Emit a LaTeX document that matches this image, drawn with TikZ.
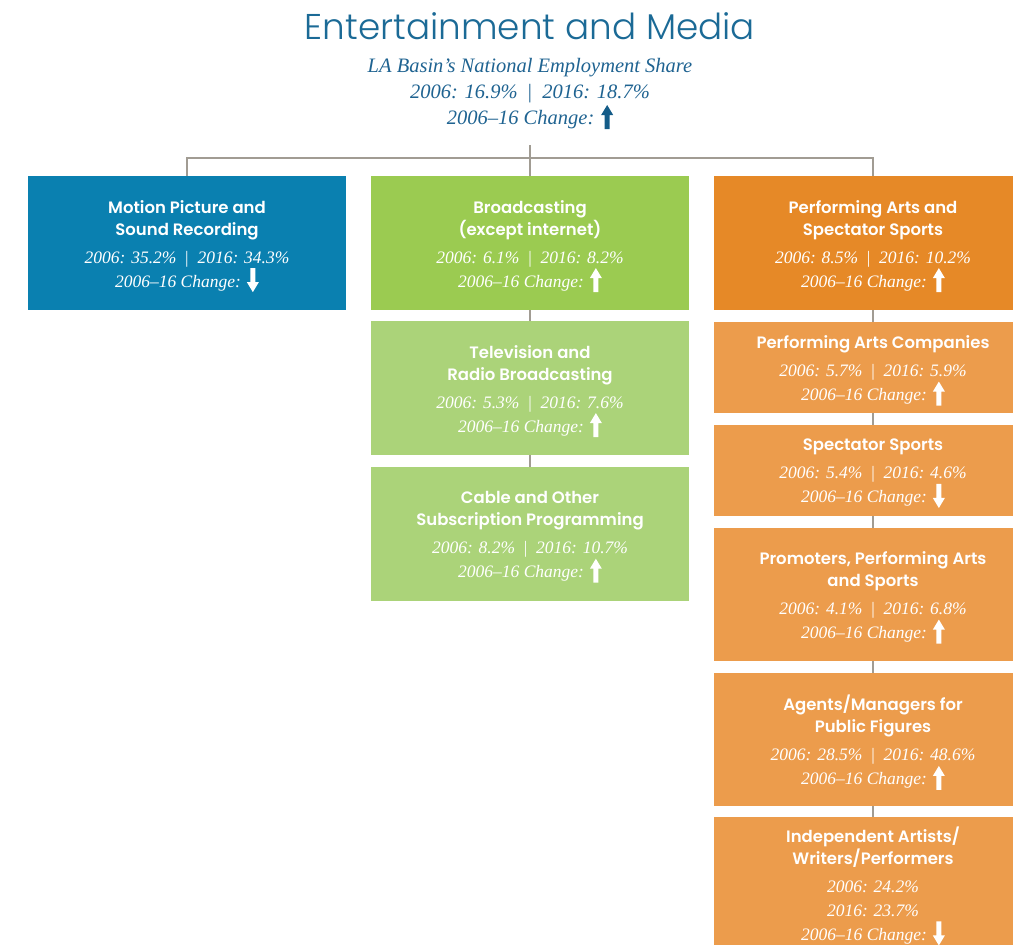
\documentclass[tikz,border=0pt]{standalone}
\usepackage{fontspec}
\setmainfont{Liberation Serif}
\setsansfont{Poppins}[BoldFont={Poppins SemiBold}]
\newfontfamily\titlefont{Poppins Light}
\definecolor{titleblue}{HTML}{1B6A96}
\definecolor{subblue}{HTML}{1F6391}
\definecolor{arrowblue}{HTML}{145C88}
\definecolor{boxblue}{HTML}{0A80B0}
\definecolor{greenA}{HTML}{9BCB51}
\definecolor{greenB}{HTML}{ABD379}
\definecolor{orangeA}{HTML}{E68927}
\definecolor{orangeB}{HTML}{EC9C4C}
\definecolor{linegray}{HTML}{A19C93}
\newcommand\hd[1]{{\sffamily\upshape\bfseries\fontsize{16.5}{20}\selectfont #1}}
\newcommand\sepbar{\hspace{0.5em}\textup{|}\hspace{0.5em}}
\newcommand\uarr[1][white]{\smash{\tikz[baseline=5pt,x=1pt,y=1pt]\fill[#1] (-2.5,0) -- (-2.5,14) -- (-6,14) -- (0,24) -- (6,14) -- (2.5,14) -- (2.5,0) -- cycle;}}
\newcommand\darr[1][white]{\smash{\tikz[baseline=5pt,x=1pt,y=1pt]\fill[#1] (-2.5,24) -- (-2.5,10) -- (-6,10) -- (0,0) -- (6,10) -- (2.5,10) -- (2.5,24) -- cycle;}}
\tikzset{
  box/.style={rectangle, inner sep=0pt, minimum width=318pt, text=white, align=center,
    font=\itshape\fontsize{17.5}{24}\selectfont},
  btext/.style={inner sep=0pt, text=white, align=center, font=\itshape\fontsize{17.5}{24}\selectfont},
  conn/.style={draw=linegray, line width=2pt},
  sub/.style={anchor=base, inner sep=0pt, text=subblue, font=\itshape\fontsize{20.5}{22}\selectfont}
}
\begin{document}
\begin{tikzpicture}[x=1pt,y=-1pt]
\useasboundingbox (0,0) rectangle (1013,945);
\clip (0,0) rectangle (1013,945);
% title
\node[anchor=base, inner sep=0pt, text=titleblue, font=\titlefont\fontsize{35.8}{40}\selectfont] (title) at (530,39) {Entertainment and Media};
\node[sub] (s1) at (530,72) {LA Basin’s National Employment Share};
\node[sub] (s2) at (530,98) {2006: 16.9\%\sepbar 2016: 18.7\%};
\node[sub] (s3) at (530,124) {2006–16 Change: \uarr[arrowblue]};
% boxes
\node[box, fill=boxblue, minimum height=134pt] (mp) at (187,243) {};
\node[box, fill=greenA, minimum height=134pt] (bc) at (530,243) {};
\node[box, fill=greenB, minimum height=134pt] (tv) at (530,388) {};
\node[box, fill=greenB, minimum height=134pt] (cb) at (530,534) {};
\node[box, fill=orangeA, minimum height=134pt] (pa) at (873,243) {};
\node[box, fill=orangeB, minimum height=91pt] (pac) at (873,367.5) {};
\node[box, fill=orangeB, minimum height=91pt] (ss) at (873,470.5) {};
\node[box, fill=orangeB, minimum height=133pt] (pr) at (873,594.5) {};
\node[box, fill=orangeB, minimum height=133pt] (ag) at (873,739.5) {};
\node[box, fill=orangeB, minimum height=136pt] (ia) at (873,885) {};
% box texts
\node[btext, yshift=-2.5pt] (mpt) at (mp)
  {\hd{Motion Picture and}\\[-2pt]\hd{Sound Recording}\\[4pt]2006: 35.2\%\sepbar 2016: 34.3\%\\2006–16 Change: \darr};
\node[btext, yshift=-2.5pt] (bct) at (bc)
  {\hd{Broadcasting}\\[-2pt]\hd{(except internet)}\\[4pt]2006: 6.1\%\sepbar 2016: 8.2\%\\2006–16 Change: \uarr};
\node[btext, yshift=-2.5pt] (tvt) at (tv)
  {\hd{Television and}\\[-2pt]\hd{Radio Broadcasting}\\[4pt]2006: 5.3\%\sepbar 2016: 7.6\%\\2006–16 Change: \uarr};
\node[btext, yshift=-2.5pt] (cbt) at (cb)
  {\hd{Cable and Other}\\[-2pt]\hd{Subscription Programming}\\[4pt]2006: 8.2\%\sepbar 2016: 10.7\%\\2006–16 Change: \uarr};
\node[btext, yshift=-2.5pt] (pat) at (pa)
  {\hd{Performing Arts and}\\[-2pt]\hd{Spectator Sports}\\[4pt]2006: 8.5\%\sepbar 2016: 10.2\%\\2006–16 Change: \uarr};
\node[btext, yshift=-2.5pt] (pact) at (pac)
  {\hd{Performing Arts Companies}\\[4pt]2006: 5.7\%\sepbar 2016: 5.9\%\\2006–16 Change: \uarr};
\node[btext, yshift=-2.5pt] (sst) at (ss)
  {\hd{Spectator Sports}\\[4pt]2006: 5.4\%\sepbar 2016: 4.6\%\\2006–16 Change: \darr};
\node[btext, yshift=-2.5pt] (prt) at (pr)
  {\hd{Promoters, Performing Arts}\\[-2pt]\hd{and Sports}\\[4pt]2006: 4.1\%\sepbar 2016: 6.8\%\\2006–16 Change: \uarr};
\node[btext, yshift=-2.5pt] (agt) at (ag)
  {\hd{Agents/Managers for}\\[-2pt]\hd{Public Figures}\\[4pt]2006: 28.5\%\sepbar 2016: 48.6\%\\2006–16 Change: \uarr};
\node[btext, yshift=-0.5pt] (iat) at (ia)
  {\hd{Independent Artists/}\\[-2pt]\hd{Writers/Performers}\\[4pt]2006: 24.2\%\\2016: 23.7\%\\2006–16 Change: \darr};
% connectors
\coordinate (hub) at (530,145);
\draw[conn] (hub) -- (bc.north);
\draw[conn] (mp.north) -- ++(0,-18) -| (pa.north);
\draw[conn] (bc.south) -- (tv.north);
\draw[conn] (tv.south) -- (cb.north);
\draw[conn] (pa.south) -- (pac.north);
\draw[conn] (pac.south) -- (ss.north);
\draw[conn] (ss.south) -- (pr.north);
\draw[conn] (pr.south) -- (ag.north);
\draw[conn] (ag.south) -- (ia.north);
\end{tikzpicture}
\end{document}
